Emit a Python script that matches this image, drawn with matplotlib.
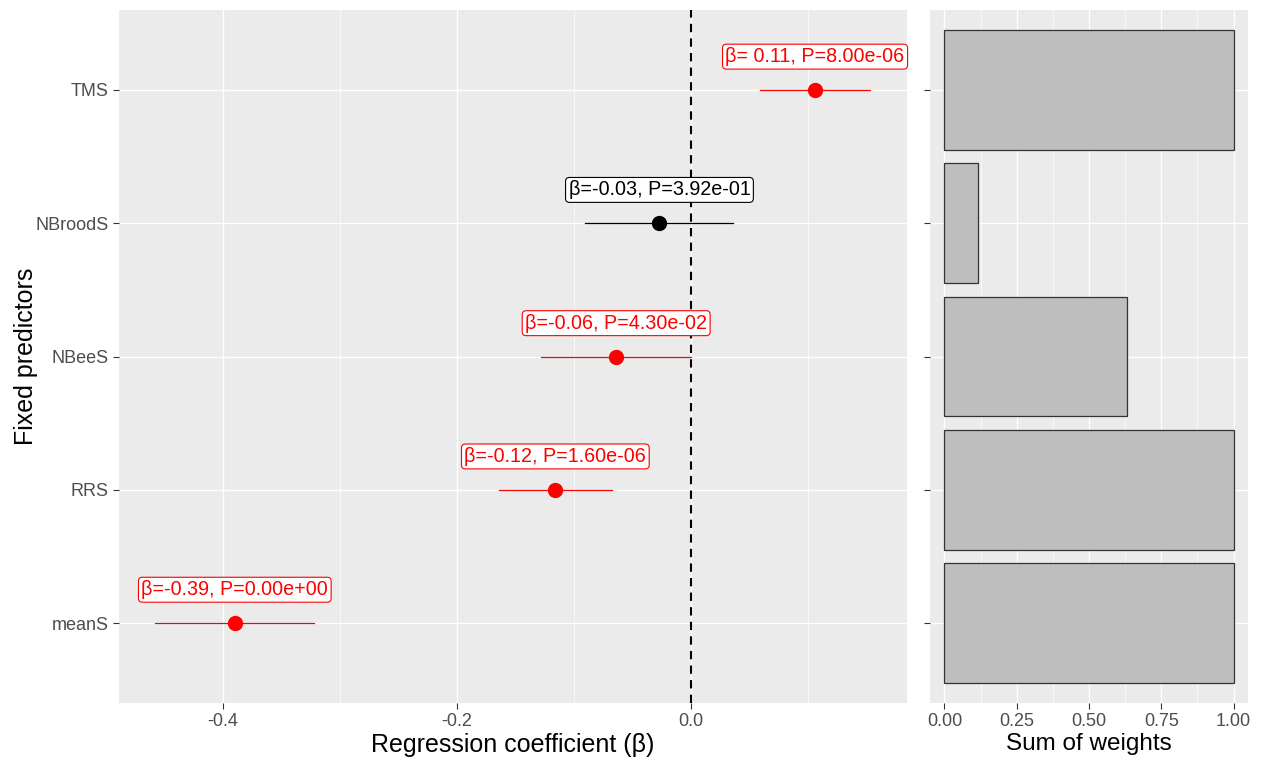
import matplotlib
matplotlib.use("Agg")
import matplotlib.pyplot as plt
from matplotlib.ticker import FixedLocator

plt.rcParams['font.family'] = ['Liberation Sans', 'DejaVu Sans']

predictors = ["meanS", "RRS", "NBeeS", "NBroodS", "TMS"]
beta = [-0.390, -0.116, -0.064, -0.027, 0.106]
ci_low = [-0.458, -0.164, -0.128, -0.091, 0.059]
ci_high = [-0.322, -0.068, 0.000, 0.036, 0.153]
labels = ["β=-0.39, P=0.00e+00", "β=-0.12, P=1.60e-06", "β=-0.06, P=4.30e-02",
          "β=-0.03, P=3.92e-01", "β= 0.11, P=8.00e-06"]
significant = [True, True, True, False, True]
weights = [1.0, 1.0, 0.63, 0.115, 1.0]

W, H = 1262, 759
fig = plt.figure(figsize=(W/100, H/100), dpi=100)
bg = "#EBEBEB"
ax = fig.add_axes([119/W, (H-703)/H, (907-119)/W, (703-10)/H])
ax2 = fig.add_axes([930/W, (H-703)/H, (1248-930)/W, (703-10)/H])

ypos = list(range(1, len(predictors)+1))

for a in (ax, ax2):
    a.set_facecolor(bg)
    for s in a.spines.values():
        s.set_visible(False)
    a.set_axisbelow(True)
    a.tick_params(axis='both', which='major', length=4, color="#333333",
                  labelcolor="#4D4D4D", labelsize=13)
    a.tick_params(axis='both', which='minor', length=0)
    a.grid(which='major', color='white', linewidth=1.0)
    a.grid(which='minor', color='white', linewidth=0.5)
    a.set_ylim(0.4, 5.6)
    a.yaxis.set_major_locator(FixedLocator(ypos))
    a.yaxis.set_minor_locator(FixedLocator([]))

# Left panel
ax.set_xlim(-0.489, 0.1846)
ax.xaxis.set_major_locator(FixedLocator([-0.4, -0.2, 0.0]))
ax.xaxis.set_minor_locator(FixedLocator([-0.3, -0.1, 0.1]))
ax.set_xticklabels(["-0.4", "-0.2", "0.0"])
ax.set_yticklabels(predictors)
ax.axvline(0, color='black', linestyle=(0, (4, 3)), linewidth=1.5, zorder=2)

for y, b, lo, hi, lab, sig in zip(ypos, beta, ci_low, ci_high, labels, significant):
    col = 'red' if sig else 'black'
    ax.plot([lo, hi], [y, y], color=col, linewidth=0.9, zorder=3)
    ax.plot([b], [y], 'o', color=col, markersize=10, zorder=4)
    ax.text(b, y + 0.25, lab, color=col, fontsize=14.2, ha='center', va='center', zorder=5,
            bbox=dict(boxstyle='round,pad=0.15,rounding_size=0.2', facecolor='white',
                      edgecolor=col, linewidth=0.8))

ax.set_xlabel("Regression coefficient (β)", fontsize=18, color='black', labelpad=2)
ax.set_ylabel("Fixed predictors", fontsize=18, color='black', labelpad=-2)

# Right panel
ax2.set_xlim(-0.05, 1.05)
ax2.xaxis.set_major_locator(FixedLocator([0, 0.25, 0.5, 0.75, 1.0]))
ax2.xaxis.set_minor_locator(FixedLocator([0.125, 0.375, 0.625, 0.875]))
ax2.set_xticklabels(["0.00", "0.25", "0.50", "0.75", "1.00"])
ax2.set_yticklabels([])
ax2.barh(ypos, weights, height=0.9, color='#BEBEBE', edgecolor='#333333', linewidth=0.9, zorder=3)
ax2.set_xlabel("Sum of weights", fontsize=17.5, color='black', labelpad=2)

fig.savefig("out.png", dpi=100, facecolor='white')
